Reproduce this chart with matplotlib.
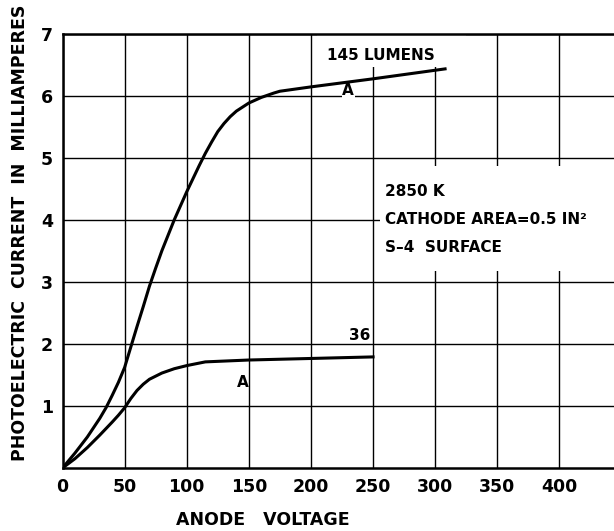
"""Photoelectric current vs anode voltage for a phototube (S-4 surface)."""

import matplotlib
matplotlib.use("Agg")
import matplotlib.pyplot as plt
from matplotlib.patches import Rectangle

# 145 lumens curve
volts_145 = [0, 10, 20, 30, 35, 40, 45, 50, 55, 60, 65, 70, 75, 80, 90, 100, 110,
             115, 120, 125, 130, 135, 140, 150, 160, 170, 175, 200, 250, 308]
amps_145 = [0, 0.24, 0.5, 0.8, 0.97, 1.17, 1.38, 1.62, 1.95, 2.28, 2.6, 2.93, 3.22,
            3.5, 4.0, 4.45, 4.87, 5.07, 5.25, 5.42, 5.55, 5.66, 5.75, 5.88, 5.97,
            6.04, 6.07, 6.14, 6.27, 6.43]

# 36 lumens curve
volts_36 = [0, 10, 20, 30, 40, 45, 50, 55, 60, 65, 70, 80, 90, 100, 115, 150, 190, 250]
amps_36 = [0, 0.15, 0.33, 0.53, 0.74, 0.85, 0.97, 1.12, 1.25, 1.35, 1.43, 1.53, 1.6,
           1.65, 1.71, 1.74, 1.76, 1.79]

x_ticks = [0, 50, 100, 150, 200, 250, 300, 350, 400]
y_ticks = [1, 2, 3, 4, 5, 6, 7]
notes = ["2850 K", "CATHODE AREA=0.5 IN²", "S\u20134  SURFACE"]

plt.rcParams["font.family"] = "DejaVu Sans"

fig = plt.figure(figsize=(6.14, 5.31), dpi=100)
ax = fig.add_axes([0.1018, 0.1186, 0.8982, 0.8183])
ax.set_xlim(0, 444)
ax.set_ylim(0, 7)
ax.set_axisbelow(True)

ax.set_xticks(x_ticks)
ax.set_yticks(y_ticks)
ax.set_xticklabels([str(t) for t in x_ticks], fontsize=12.5, fontweight="bold")
ax.set_yticklabels([str(t) for t in y_ticks], fontsize=12.5, fontweight="bold")
ax.tick_params(length=0, pad=7)
ax.grid(True, color="black", linewidth=1.0)

for side in ["left", "bottom", "top"]:
    ax.spines[side].set_linewidth(1.8)
ax.spines["right"].set_visible(False)

# white patches where the lettering breaks the grid
ax.add_patch(Rectangle((205, 6.46), 120, 0.52, facecolor="white", edgecolor="none", zorder=1.5))
ax.add_patch(Rectangle((256, 3.17), 200, 1.69, facecolor="white", edgecolor="none", zorder=1.5))

ax.plot(volts_145, amps_145, color="black", linewidth=2.2, zorder=3)
ax.plot(volts_36, amps_36, color="black", linewidth=2.2, zorder=3)

ax.text(256, 6.64, "145 LUMENS", fontsize=11, fontweight="bold", ha="center", va="center")
ax.text(248, 2.13, "36", fontsize=11, fontweight="bold", ha="right", va="center")
ax.text(230, 6.08, "A", fontsize=11, fontweight="bold", ha="center", va="center",
        bbox=dict(facecolor="white", edgecolor="none", pad=0.5), zorder=2)
ax.text(145, 1.37, "A", fontsize=11, fontweight="bold", ha="center", va="center")

for note, yv in zip(notes, [4.46, 4.0, 3.56]):
    ax.text(260, yv, note, fontsize=11, fontweight="bold", ha="left", va="center")

fig.text(263 / 614, 1 - 520 / 531, "ANODE   VOLTAGE", fontsize=12.5, fontweight="bold",
         ha="center", va="center")
fig.text(20 / 614, 1 - 233 / 531, "PHOTOELECTRIC  CURRENT  IN  MILLIAMPERES",
         fontsize=12.5, fontweight="bold", rotation=90, ha="center", va="center")

fig.savefig("out.png", dpi=100)
